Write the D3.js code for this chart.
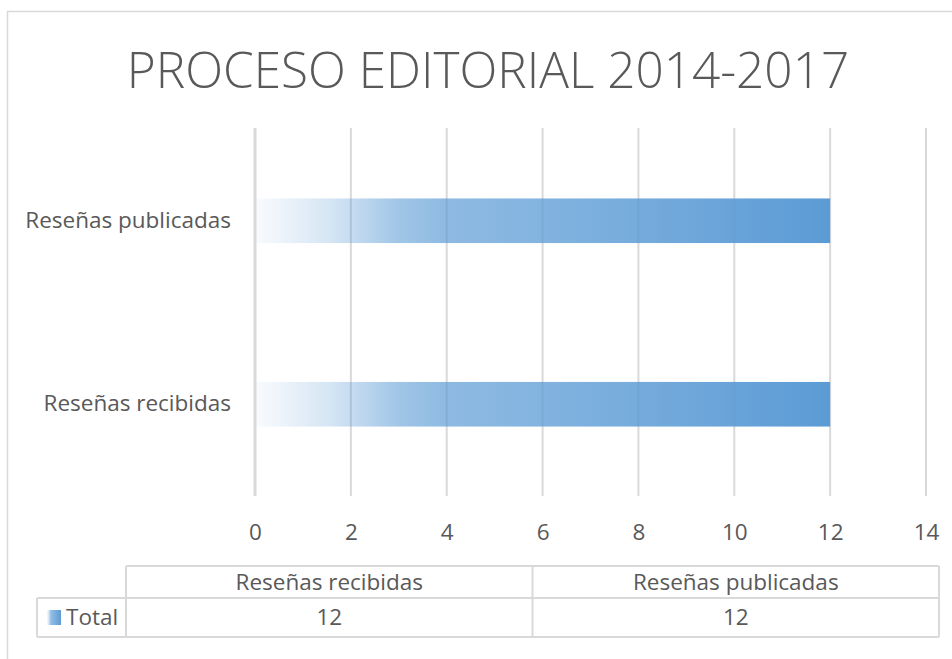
<!DOCTYPE html>
<html>
<head>
<meta charset="utf-8">
<script src="https://cdn.jsdelivr.net/npm/d3@7"></script>
<style>
  body { margin: 0; background: #fff; }
  svg text { font-family: "Open Sans", "Noto Sans", sans-serif; fill: #595959; }
</style>
</head>
<body>
<div id="chart"></div>
<script>
// chart data
const title = 'PROCESO EDITORIAL 2014-2017'
const categories = ['Reseñas recibidas', 'Reseñas publicadas']
const values = [12, 12]
const seriesName = 'Total'
const xTicks = [0, 2, 4, 6, 8, 10, 12, 14]

const width = 952
const height = 659
const blue = '#5b9bd5'
const gridColor = '#d9d9d9'
const labelSize = '22.5px'

const svg = d3.select('#chart').append('svg')
    .attr('width', width)
    .attr('height', height)

// outer chart border
svg.append('rect')
    .attr('x', 7.5)
    .attr('y', 11.5)
    .attr('width', width + 10)
    .attr('height', height + 10)
    .attr('fill', 'none')
    .attr('stroke', gridColor)
    .attr('stroke-width', 1.5)

// gradient for the bars
const defs = svg.append('defs')
const grad = defs.append('linearGradient')
    .attr('id', 'barGrad')
    .attr('x1', '0%').attr('x2', '100%')
    .attr('y1', '0%').attr('y2', '0%')
const stops = [[0, 0.04], [0.13, 0.26], [0.25, 0.58], [0.33, 0.69], [0.5, 0.76], [1, 1]]
grad.selectAll('stop')
    .data(stops)
    .enter()
    .append('stop')
    .attr('offset', d => d[0])
    .attr('stop-color', blue)
    .attr('stop-opacity', d => d[1])

svg.append('text')
    .text(title)
    .attr('x', 488)
    .attr('y', 88)
    .attr('text-anchor', 'middle')
    .style('font-size', '49.5px')
    .style('font-weight', 300)

const xScale = d3.scaleLinear()
    .domain([0, d3.max(xTicks)])
    .range([255, 926])

const yScale = d3.scaleBand()
    .domain(categories.slice().reverse())
    .range([129, 496])
    .paddingInner(0.757)
    .paddingOuter(0.757 / 2)

// gridlines
const grid = svg.append('g').attr('class', 'grid')
grid.selectAll('line')
    .data(xTicks)
    .enter()
    .append('line')
    .attr('x1', d => xScale(d))
    .attr('x2', d => xScale(d))
    .attr('y1', 128)
    .attr('y2', 496)
    .attr('stroke', gridColor)
    .attr('stroke-width', d => d === 0 ? 3 : 2)

// bars
const data = categories.map((c, i) => ({ cat: c, value: values[i] }))
svg.append('g')
    .selectAll('rect')
    .data(data)
    .enter()
    .append('rect')
    .attr('x', xScale(0) + 1.5)
    .attr('y', d => yScale(d.cat))
    .attr('width', d => xScale(d.value) - xScale(0) - 1.5)
    .attr('height', yScale.bandwidth())
    .attr('fill', 'url(#barGrad)')

// x axis labels
const xAxis = d3.axisBottom(xScale)
    .tickValues(xTicks)
    .tickSize(0)
    .tickPadding(0)
const xg = svg.append('g')
    .attr('transform', 'translate(0, 532)')
    .call(xAxis)
xg.select('.domain').remove()
xg.selectAll('text')
    .attr('dy', '0.35em')
    .style('font-size', labelSize)
    .style('font-family', '"Open Sans", sans-serif')
    .attr('fill', '#595959')

// y axis labels
const yAxis = d3.axisLeft(yScale)
    .tickSize(0)
    .tickPadding(0)
const yg = svg.append('g')
    .attr('transform', 'translate(231, 0)')
    .call(yAxis)
yg.select('.domain').remove()
yg.selectAll('text')
    .style('font-size', labelSize)
    .style('font-family', '"Open Sans", sans-serif')
    .attr('fill', '#595959')

// data table
const colX = d3.scaleBand()
    .domain(categories)
    .range([126, 939])
const rowTop = 566
const rowMid = 598
const rowBot = 637
const table = svg.append('g').attr('class', 'table')
const tline = (x1, y1, x2, y2) => table.append('line')
    .attr('x1', x1).attr('y1', y1).attr('x2', x2).attr('y2', y2)
    .attr('stroke', gridColor).attr('stroke-width', 2)

tline(colX.range()[0], rowTop, colX.range()[1], rowTop)
tline(37, rowMid, colX.range()[1], rowMid)
tline(37, rowBot, colX.range()[1], rowBot)
tline(37, rowMid, 37, rowBot)
tline(colX.range()[0], rowTop, colX.range()[0], rowBot)
categories.forEach(c => {
    tline(colX(c) + colX.bandwidth(), rowTop, colX(c) + colX.bandwidth(), rowBot)
})

table.selectAll('.head')
    .data(categories)
    .enter()
    .append('text')
    .attr('class', 'head')
    .text(d => d)
    .attr('x', d => colX(d) + colX.bandwidth() / 2)
    .attr('y', (rowTop + rowMid) / 2)
    .attr('dy', '0.35em')
    .attr('text-anchor', 'middle')
    .style('font-size', labelSize)

table.selectAll('.val')
    .data(data)
    .enter()
    .append('text')
    .attr('class', 'val')
    .text(d => d.value)
    .attr('x', d => colX(d.cat) + colX.bandwidth() / 2)
    .attr('y', (rowMid + rowBot) / 2)
    .attr('dy', '0.35em')
    .attr('text-anchor', 'middle')
    .style('font-size', labelSize)

// legend key + series name
const keyGrad = defs.append('linearGradient')
    .attr('id', 'keyGrad')
    .attr('x1', '0%').attr('x2', '100%')
grad.selectAll('stop').each(function () {
    keyGrad.append('stop')
        .attr('offset', this.getAttribute('offset'))
        .attr('stop-color', blue)
        .attr('stop-opacity', this.getAttribute('stop-opacity'))
})
table.append('rect')
    .attr('x', 47)
    .attr('y', 610)
    .attr('width', 14)
    .attr('height', 15)
    .attr('fill', 'url(#keyGrad)')
table.append('text')
    .text(seriesName)
    .attr('x', 66)
    .attr('y', (rowMid + rowBot) / 2)
    .attr('dy', '0.35em')
    .style('font-size', labelSize)
</script>
</body>
</html>
